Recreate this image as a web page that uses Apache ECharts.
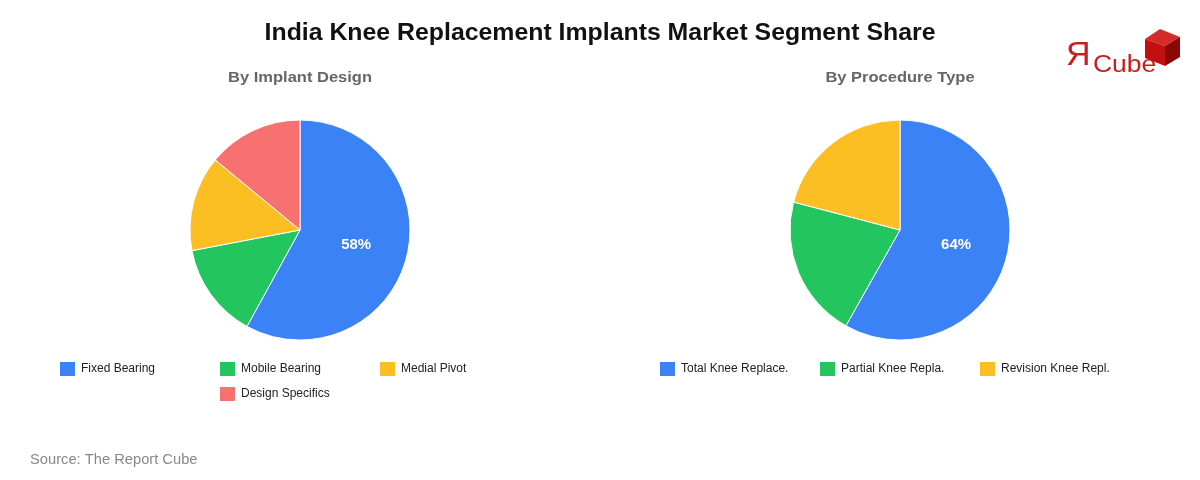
<!DOCTYPE html>
<html><head><meta charset="utf-8">
<script src="https://cdn.jsdelivr.net/npm/echarts@6/dist/echarts.min.js"></script>
<style>html,body{margin:0;padding:0;background:#fff}#c{width:1200px;height:480px}</style>
</head><body><div id="c"></div>
<script>
const titleText = 'India Knee Replacement Implants Market Segment Share';
const subTitles = ['By Implant Design', 'By Procedure Type'];
const sourceText = 'Source: The Report Cube';
const designNames = ['Fixed Bearing', 'Mobile Bearing', 'Medial Pivot', 'Design Specifics'];
const designValues = [58, 14, 14, 14];
const procNames = ['Total Knee Replace.', 'Partial Knee Repla.', 'Revision Knee Repl.'];
const procValues = [64, 23, 23];
const colors = ['#3b82f6', '#22c55e', '#fbbf24', '#f87171'];
const font = '"Liberation Sans", Arial, sans-serif';

function mkData(names, vals) {
  return names.map((n, i) => ({
    name: n, value: vals[i],
    itemStyle: { color: colors[i] },
    label: { show: i === 0 }
  }));
}
function pie(names, vals, cx) {
  return {
    type: 'pie', center: [cx, 230], radius: 110, startAngle: 90, clockwise: true,
    data: mkData(names, vals), avoidLabelOverlap: false,
    itemStyle: { borderColor: '#fff', borderWidth: 1 },
    label: { position: 'inside', formatter: '{c}%', color: '#fff', fontWeight: 'bold', fontSize: 15, fontFamily: font },
    labelLine: { show: false }, emphasis: { disabled: true }, animation: false
  };
}
const legPos = [[58, 360], [218, 360], [378, 360], [218, 385]];
const legPosR = [[658, 360], [818, 360], [978, 360]];
const legends = [];
designNames.forEach((n, i) => legends.push({ data: [n], left: legPos[i][0], top: legPos[i][1] }));
procNames.forEach((n, i) => legends.push({ data: [n], left: legPosR[i][0], top: legPosR[i][1] }));
legends.forEach(l => Object.assign(l, {
  icon: 'rect', itemWidth: 17, itemHeight: 16, itemGap: 3, padding: 0, selectedMode: false,
  textStyle: { fontSize: 12, color: '#222', fontFamily: font, padding: [0, 0, 0, 0] }
}));

function txt(text, x, y, size, weight, color, align, sx) {
  return { type: 'text', x: x, y: y, scaleX: sx, silent: true,
    style: { text: text, x: 0, y: 0, textAlign: align, textVerticalAlign: 'middle',
      fill: color, font: weight + ' ' + size + 'px ' + font } };
}

const chart = echarts.init(document.getElementById('c'), null, { renderer: 'canvas' });
chart.setOption({
  animation: false,
  backgroundColor: '#fff',
  legend: legends,
  series: [pie(designNames, designValues, 300), pie(procNames, procValues, 900)],
  graphic: [
    txt(titleText, 600, 34, 23, 'bold', '#111', 'center', 1.08),
    txt(subTitles[0], 300, 78, 15, 'bold', '#666', 'center', 1.1),
    txt(subTitles[1], 900, 78, 15, 'bold', '#666', 'center', 1.1),
    txt(sourceText, 30, 460, 14, 'normal', '#888', 'left', 1.05),
    { type: 'text', x: 1066, y: 73, silent: true, style: { text: 'Я', x: 0, y: 0, textVerticalAlign: 'bottom', fill: '#c81e1e', font: '34px ' + font } },
    { type: 'text', x: 1093, y: 77, scaleX: 1.15, silent: true, style: { text: 'Cube', x: 0, y: 0, textVerticalAlign: 'bottom', fill: '#c81e1e', font: '23px ' + font } },
    { type: 'polygon', silent: true, shape: { points: [[1160, 29], [1180, 37], [1165, 46], [1145, 39]] }, style: { fill: '#d42a2a' } },
    { type: 'polygon', silent: true, shape: { points: [[1145, 39], [1165, 46], [1165, 66], [1145, 58]] }, style: { fill: '#c21010' } },
    { type: 'polygon', silent: true, shape: { points: [[1165, 46], [1180, 37], [1180, 57], [1165, 66]] }, style: { fill: '#8c0606' } }
  ]
});
</script></body></html>
